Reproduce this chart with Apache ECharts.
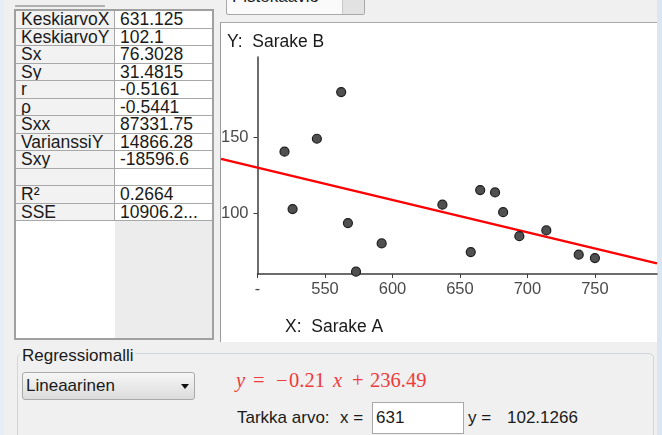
<!DOCTYPE html>
<html><head><meta charset="utf-8">
<script src="https://cdn.jsdelivr.net/npm/echarts@6/dist/echarts.min.js"></script>
<style>
html,body{margin:0;padding:0;}
body{width:662px;height:435px;overflow:hidden;position:relative;background:#f0f0f0;font-family:"Liberation Sans",Arial,sans-serif;color:#1a1a1a;}
.a{position:absolute;box-sizing:border-box;}
.cell{position:absolute;box-sizing:border-box;height:17.5px;line-height:17.5px;font-size:17.5px;padding-left:5px;white-space:nowrap;overflow:hidden;border-bottom:1px solid #a8a8a8;}
.ui{position:absolute;font-size:17px;line-height:20px;white-space:nowrap;color:#1a1a1a;}
.eq{position:absolute;font-family:"Liberation Serif","DejaVu Serif",serif;font-size:20.5px;line-height:24px;color:#ef3b3b;white-space:nowrap;}
</style></head><body>
<div class="a" style="left:0;top:0;width:4px;height:435px;background:#e6edf6;"></div>
<div class="a" style="left:657px;top:0;width:5px;height:435px;background:#dbe6f3;"></div>
<div class="a" style="left:15px;top:0;width:90px;height:7px;border-bottom:2px solid #b0b0b0;"></div>

<div id="table"></div>
<div class="a" style="left:14px;top:9px;width:200px;height:331px;border:2px solid #a0a0a0;z-index:3;"></div>

<div class="a" style="left:220px;top:22px;width:437px;height:320px;background:#fff;border-left:1px solid #9a9a9a;border-top:1px solid #a8a8a8;"></div>
<div class="a" style="left:226px;top:-20px;width:139px;height:35px;border:1px solid #a8a8a8;border-radius:2px;background:#fafafa;overflow:hidden;">
  <div class="a" style="right:0;top:0;width:22px;height:35px;background:#e2e2e2;border-left:1px solid #c8c8c8;"></div>
  <div class="ui" style="left:5px;top:6px;font-size:17px;">Pistekaavio</div>
</div>

<div class="a" style="left:17px;top:353px;width:637px;height:100px;border:1px solid #cdd6dc;border-radius:5px;"></div>
<div class="ui" style="left:20px;top:346px;padding:0 2px;background:#f0f0f0;">Regressiomalli</div>
<div class="a" style="left:22px;top:372px;width:173px;height:28px;border:1px solid #a9a9a9;border-radius:3px;background:linear-gradient(#f6f6f6,#dcdcdc);"></div>
<div class="ui" style="left:26px;top:376px;">Lineaarinen</div>
<div class="a" style="left:181px;top:384px;width:0;height:0;border-left:4px solid transparent;border-right:4px solid transparent;border-top:5px solid #111;"></div>

<div id="eq"></div>
<div class="ui" style="left:237px;top:408px;">Tarkka arvo:</div>
<div class="ui" style="left:340px;top:408px;">x =</div>
<div class="a" style="left:372px;top:402px;width:92px;height:32px;background:#fff;border:1px solid #a8a8a8;"></div>
<div class="ui" style="left:376px;top:408px;">631</div>
<div class="ui" style="left:468px;top:408px;">y =</div>
<div class="ui" style="left:507px;top:408px;" id="yval"></div>

<div id="chart" class="a" style="left:0;top:0;width:662px;height:435px;z-index:5;pointer-events:none;"></div>
<script>
// Statistics table
const statNames = ["KeskiarvoX","KeskiarvoY","Sx","Sy","r","\u03C1","Sxx","VarianssiY","Sxy","","R\u00B2","SSE"];
const statValues = ["631.125","102.1","76.3028","31.4815","-0.5161","-0.5441","87331.75","14866.28","-18596.6","","0.2664","10906.2..."];

// Scatter data (Sarake A, Sarake B)
const xValues = [520, 526, 544, 562, 567, 573, 592, 637, 658, 665, 676, 682, 694, 714, 738, 750];
const yValues = [140.5, 102.7, 149.0, 179.7, 93.5, 61.5, 80.1, 105.6, 74.4, 115.2, 113.7, 100.7, 84.9, 88.7, 72.7, 70.5];

// Axis ticks / ranges
const xTickValues = [500, 550, 600, 650, 700, 750];
const yTickValues = [100, 150];
const xRange = [500, 796];
const yRange = [60, 202.8];

// Regression summary
const meanX = 631.125, meanY = 102.1, sxx = 87331.75, sxy = -18596.6;
const exactX = 631;

const slope = sxy / sxx;
const intercept = meanY - slope * meanX;

// layout (pixels)
const plotLeft = 257.5, plotRight = 657, panelLeft = 221;
const xMinWide = xRange[0] - (plotLeft - panelLeft) * (xRange[1] - xRange[0]) / (plotRight - plotLeft);

// build table
const tbl = document.getElementById('table');
let html = '';
statNames.forEach((n, i) => {
  const top = 11 + i * 17.5;
  html += `<div class="cell" style="left:16px;top:${top}px;width:99px;background:#f2f2f2;border-right:1px solid #a8a8a8;">${n}</div>`;
  html += `<div class="cell" style="left:115px;top:${top}px;width:97px;background:#fff;">${statValues[i]}</div>`;
});
const endTop = 11 + statNames.length * 17.5;
html += `<div class="a" style="left:16px;top:${endTop}px;width:99px;height:${338-endTop}px;background:#fff;"></div>`;
html += `<div class="a" style="left:115px;top:${endTop}px;width:97px;height:${338-endTop}px;background:#ececec;"></div>`;
tbl.innerHTML = html;

// equation
const s = slope.toFixed(2).replace('-', '\u2212');
const c = intercept.toFixed(2);
const eqParts = [
  ['<i>y</i>', 236], ['=', 253], [s.charAt(0), 276], [s.slice(1), 289],
  ['<i>x</i>', 333], ['+', 352], [c, 370]
];
document.getElementById('eq').innerHTML = eqParts.map(p =>
  `<div class="eq" style="left:${p[1]}px;top:368px;">${p[0]}</div>`).join('');
document.getElementById('yval').textContent = (slope * exactX + intercept).toFixed(4);

const chart = echarts.init(document.getElementById('chart'));
const axisCol = '#3c3c3c';
const labFont = {color:'#4a4a4a', fontSize:16.5, fontFamily:'Liberation Sans'};
chart.setOption({
  animation: false,
  grid: [
    {left: plotLeft, right: 662 - plotRight, top: 57, bottom: 161},
    {left: panelLeft, right: 662 - plotRight, top: 57, bottom: 161}
  ],
  xAxis: [{
    type: 'value', min: xRange[0], max: xRange[1], interval: 50,
    axisLine: {onZero: false, lineStyle: {color: axisCol, width: 1.5}},
    axisTick: {show: true, length: 4, customValues: xTickValues, lineStyle: {color: axisCol}},
    axisLabel: Object.assign({customValues: xTickValues, margin: 7,
      formatter: v => v === 500 ? '-' : String(v)}, labFont),
    splitLine: {show: false}
  }, {
    gridIndex: 1, type: 'value', min: xMinWide, max: xRange[1], show: false, splitLine: {show: false}
  }],
  yAxis: [{
    type: 'value', min: yRange[0], max: yRange[1],
    axisLine: {show: true, onZero: false, lineStyle: {color: axisCol, width: 1.5}},
    axisTick: {show: true, length: 4, customValues: yTickValues, lineStyle: {color: axisCol}},
    axisLabel: Object.assign({customValues: yTickValues, margin: 9}, labFont),
    splitLine: {show: false}
  }, {
    gridIndex: 1, type: 'value', min: yRange[0], max: yRange[1], show: false, splitLine: {show: false}
  }],
  series: [
    {type: 'line', xAxisIndex: 1, yAxisIndex: 1, symbol: 'none', z: 2,
     data: [xMinWide, xRange[1]].map(x => [x, slope * x + intercept]),
     lineStyle: {color: '#ff0000', width: 2.5}},
    {type: 'scatter', z: 3, symbolSize: 9,
     data: xValues.map((x, i) => [x, yValues[i]]),
     itemStyle: {color: '#505050', borderColor: '#1e1e1e', borderWidth: 1.2, opacity: 1}}
  ],
  graphic: [
    {type: 'text', left: 227, top: 33, style: {text: 'Y:  Sarake B', font: '17.5px "Liberation Sans"', fill: '#1a1a1a'}},
    {type: 'text', left: 285, top: 318, style: {text: 'X:  Sarake A', font: '17.5px "Liberation Sans"', fill: '#1a1a1a'}}
  ]
});
</script>
</body></html>
